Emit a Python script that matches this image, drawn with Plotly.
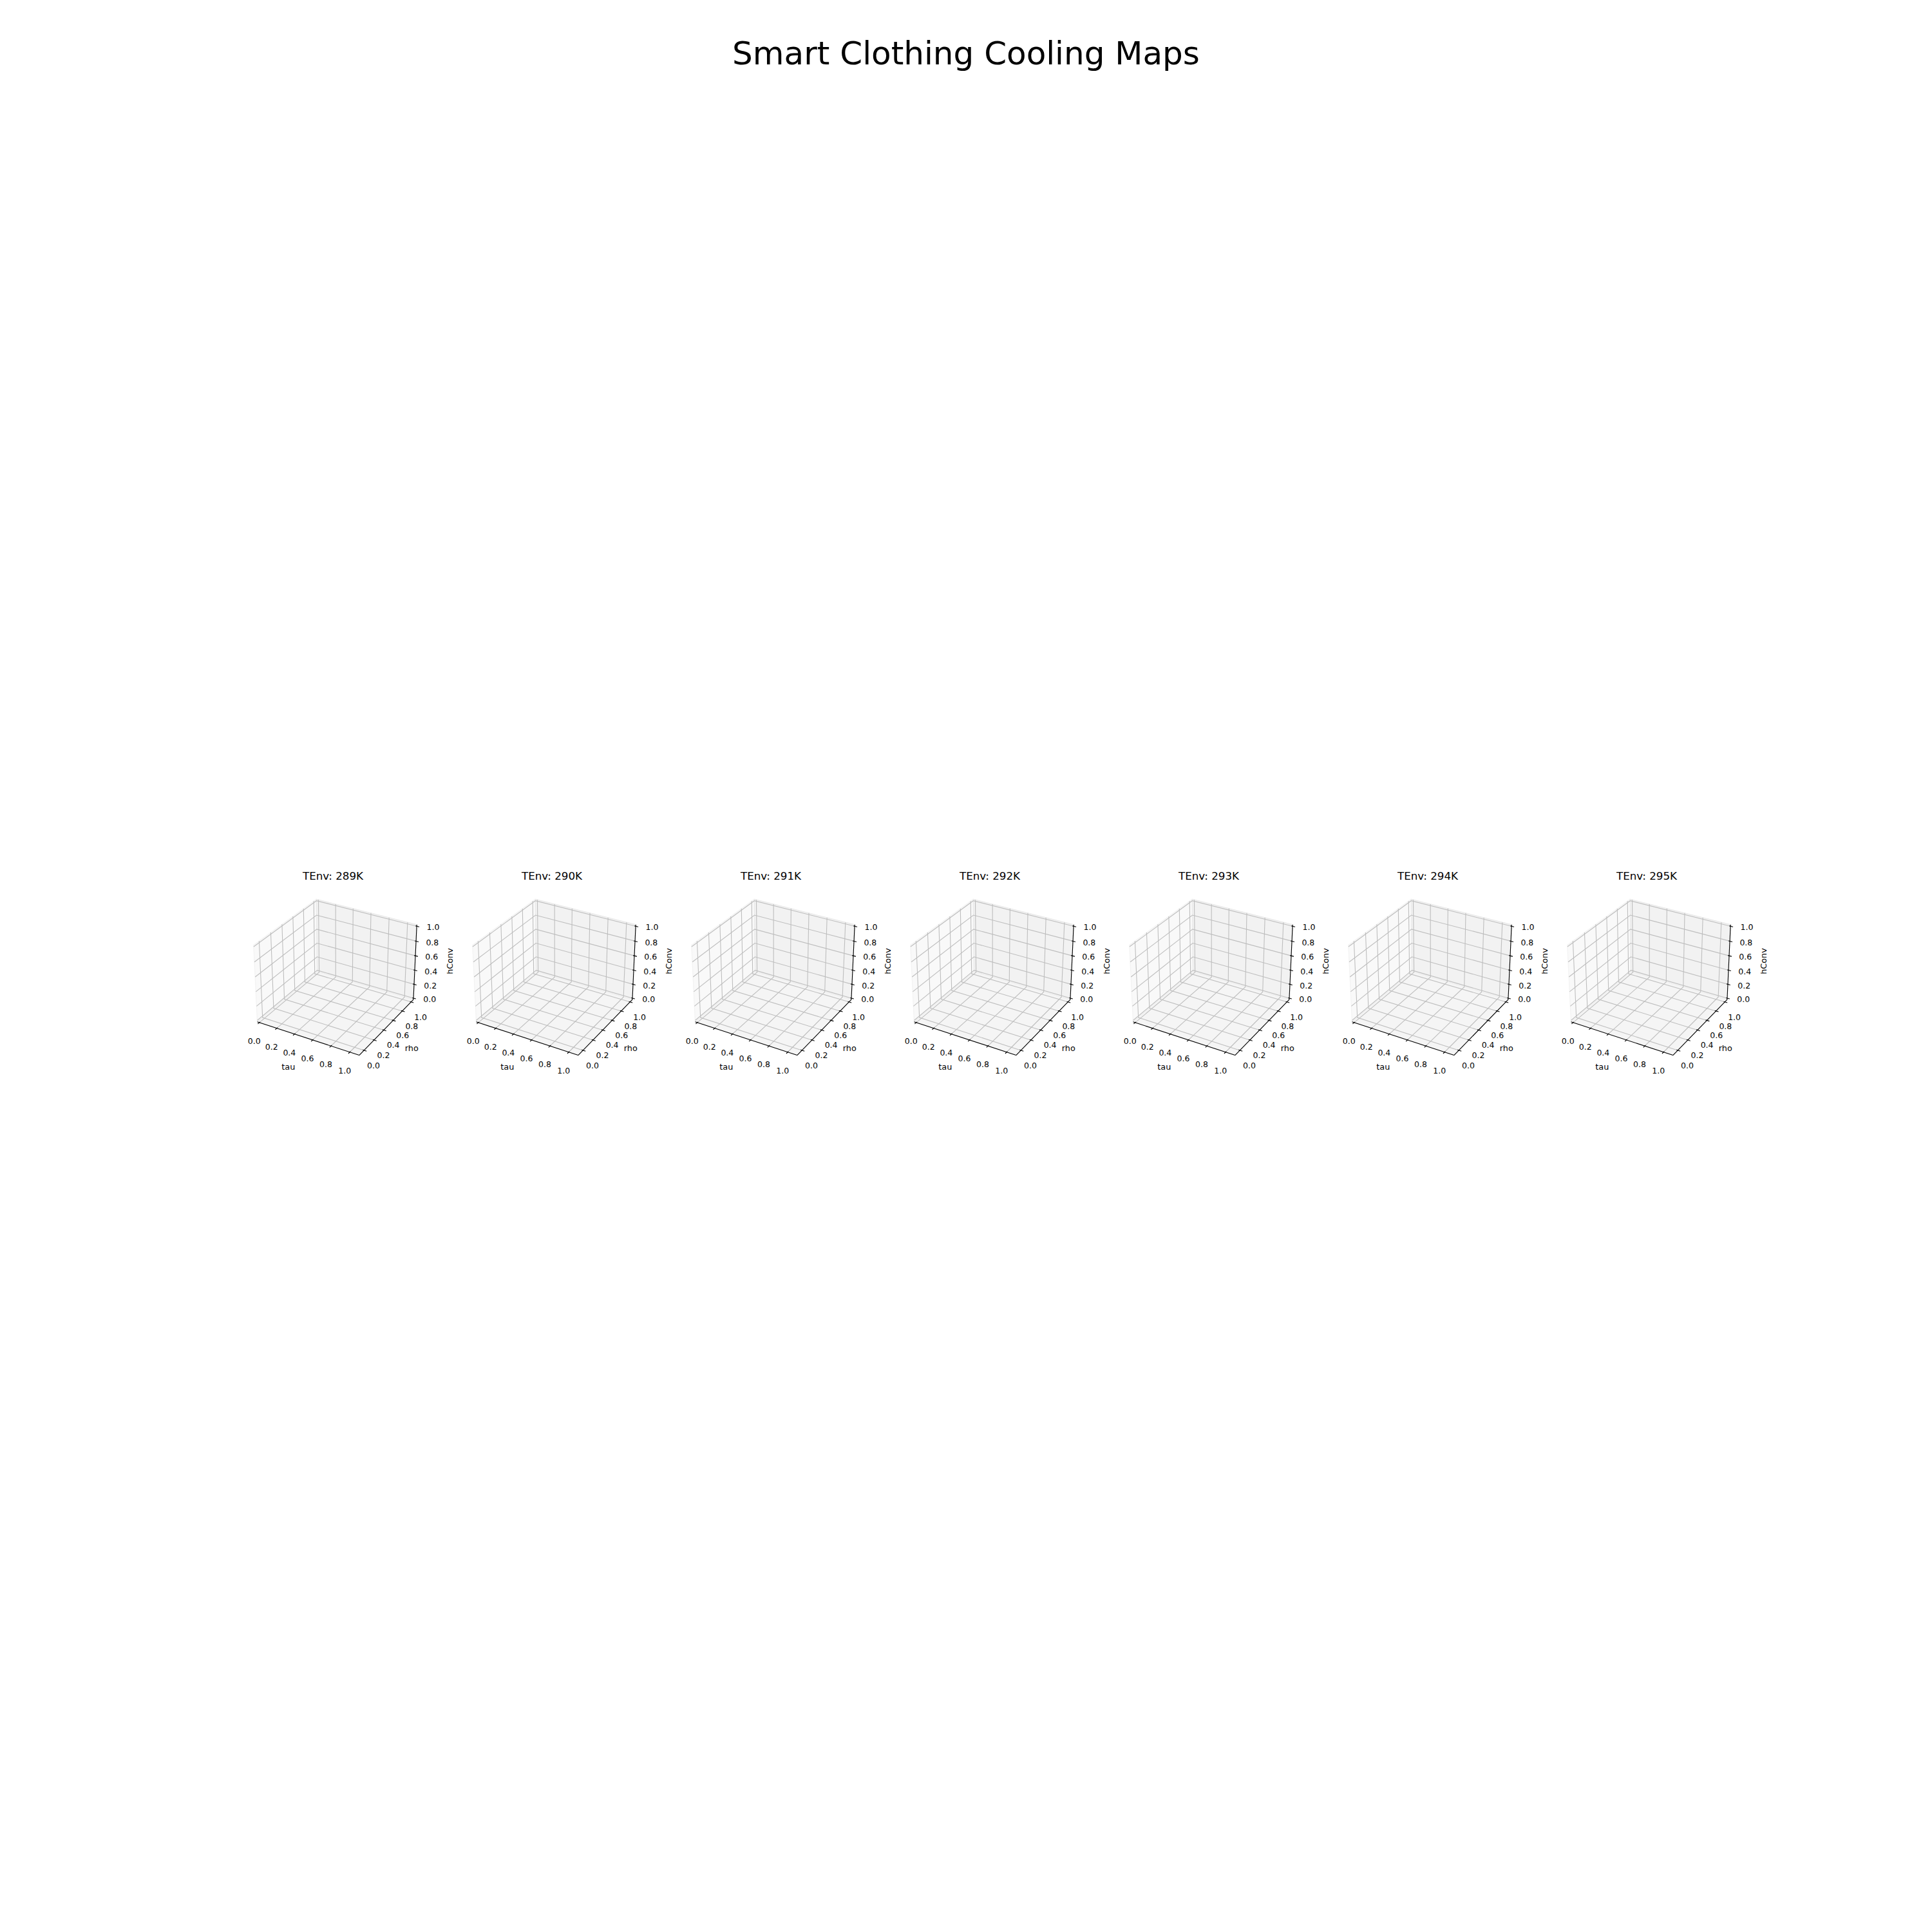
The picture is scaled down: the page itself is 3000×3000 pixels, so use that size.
import numpy as np
import plotly.graph_objects as go

# ---------------- data ----------------
temperatures = [289, 290, 291, 292, 293, 294, 295]
subplot_titles = [f"TEnv: {t}K" for t in temperatures]
x_label = "tau"
y_label = "rho"
z_label = "hConv"
tick_vals = [0.0, 0.2, 0.4, 0.6, 0.8, 1.0]
tick_text = ["0.0", "0.2", "0.4", "0.6", "0.8", "1.0"]
suptitle = "Smart Clothing Cooling Maps"
# visible axis limits (pane extents) of each axis
x_limits = [-0.024, 1.099]
y_limits = [-0.093, 1.052]
z_limits = [-1 / 48, 1 + 1 / 48]

# ---------------- 3D projection (matplotlib-like camera) ----------------
W = H = 3000
FONT = "DejaVu Sans"
BOX = np.array([4.0, 4.0, 3.0])
BOX *= 1.8294640721620434 / np.linalg.norm(BOX)
ELEV, AZIM, DIST = 30.0, -60.0, 10.0
R = 0.5 * BOX
el, az = np.deg2rad(ELEV), np.deg2rad(AZIM)
ps = np.array([np.cos(el) * np.cos(az), np.cos(el) * np.sin(az), np.sin(el)])
EYE = R + DIST * ps
w_ax = ps / np.linalg.norm(ps)
u_ax = np.cross([0, 0, 1.0], w_ax)
u_ax /= np.linalg.norm(u_ax)
v_ax = np.cross(w_ax, u_ax)

LO, HI = -1 / 48, 1 + 1 / 48  # normalised box coordinates of the panes


def proj_screen(pts):
    p = np.asarray(pts, float) * BOX
    d = p - EYE
    xv, yv, zv = d @ u_ax, d @ v_ax, d @ w_ax
    return xv / (-zv), yv / (-zv)


def nrm(val, lim):
    return LO + (val - lim[0]) / (lim[1] - lim[0]) * (HI - LO)


# screen mapping (layout calibration)
Z_AXIS_X0, Z_AXIS_Y0, Z_AXIS_Y1 = 642.0, 1550.0, 1438.3
(sxb, sxt), (syb, syt) = proj_screen([[HI, HI, 0.0], [HI, HI, 1.0]])
S = (Z_AXIS_Y0 - Z_AXIS_Y1) / (syt - syb)
BASE_X0 = Z_AXIS_X0 - S * sxb
BASE_Y0 = Z_AXIS_Y0 + S * syb
PANEL_DX = 340.0
TITLE_X0, TITLE_Y = 517.0, 1360.0


def to_px(pts, i):
    sx, sy = proj_screen(pts)
    return BASE_X0 + PANEL_DX * i + S * sx, BASE_Y0 - S * sy


TICK_OUT, TICK_IN = 0.025, 0.012
# pixel offsets of tick labels / axis labels from their anchor points
TL_OFF = {"x": (-8.0, 30.0), "y": (14.7, 24.7), "z": (25.3, 3.0)}
AL_OFF = {"x": (-23.5, 48.0), "y": (36.0, 36.5), "z": (54.0, -3.0)}

pane_polys = {"x": [], "y": [], "z": []}
grid_x, grid_y = [], []
axis_x, axis_y = [], []
tick_x, tick_y = [], []
lab_x, lab_y, lab_t = [], [], []
axl_x, axl_y, axl_t = [], [], []
annotations = []


def add_poly(store, pts, i):
    px, py = to_px(pts, i)
    store.append((list(px) + [px[0]], list(py) + [py[0]]))


def add_line(xs, ys, pts, i):
    px, py = to_px(pts, i)
    xs.extend(list(px) + [None])
    ys.extend(list(py) + [None])


def point_px(pt, i, off=(0.0, 0.0)):
    px, py = to_px([pt], i)
    return px[0] + off[0], py[0] + off[1]


for i, t in enumerate(temperatures):
    add_poly(pane_polys["x"], [[LO, LO, LO], [LO, HI, LO], [LO, HI, HI], [LO, LO, HI]], i)
    add_poly(pane_polys["y"], [[LO, HI, LO], [HI, HI, LO], [HI, HI, HI], [LO, HI, HI]], i)
    add_poly(pane_polys["z"], [[LO, LO, LO], [HI, LO, LO], [HI, HI, LO], [LO, HI, LO]], i)
    for tv in tick_vals:
        gx, gy, gz = nrm(tv, x_limits), nrm(tv, y_limits), nrm(tv, z_limits)
        add_line(grid_x, grid_y, [[gx, LO, LO], [gx, HI, LO], [gx, HI, HI]], i)
        add_line(grid_x, grid_y, [[LO, gy, HI], [LO, gy, LO], [HI, gy, LO]], i)
        add_line(grid_x, grid_y, [[HI, HI, gz], [LO, HI, gz], [LO, LO, gz]], i)
    add_line(axis_x, axis_y, [[LO, LO, LO], [HI, LO, LO]], i)
    add_line(axis_x, axis_y, [[HI, LO, LO], [HI, HI, LO]], i)
    add_line(axis_x, axis_y, [[HI, HI, LO], [HI, HI, HI]], i)
    for tv, tt in zip(tick_vals, tick_text):
        gx, gy, gz = nrm(tv, x_limits), nrm(tv, y_limits), nrm(tv, z_limits)
        add_line(tick_x, tick_y, [[gx, LO - TICK_OUT, LO], [gx, LO + TICK_IN, LO]], i)
        add_line(tick_x, tick_y, [[HI + TICK_OUT, gy, LO], [HI - TICK_IN, gy, LO]], i)
        add_line(tick_x, tick_y, [[HI + TICK_OUT, HI, gz], [HI - TICK_IN, HI, gz]], i)
        for pt, key in (([gx, LO, LO], "x"), ([HI, gy, LO], "y"), ([HI, HI, gz], "z")):
            px, py = point_px(pt, i, TL_OFF[key])
            lab_x.append(px); lab_y.append(py); lab_t.append(tt)
    for pt, txt, key in (([nrm(0.5, x_limits), LO, LO], x_label, "x"),
                         ([HI, nrm(0.5, y_limits), LO], y_label, "y")):
        px, py = point_px(pt, i, AL_OFF[key])
        axl_x.append(px); axl_y.append(py); axl_t.append(txt)
    px, py = point_px([HI, HI, nrm(0.5, z_limits)], i, AL_OFF["z"])
    annotations.append(dict(text=z_label, x=px, y=py, xref="x", yref="y",
                            showarrow=False, textangle=-90,
                            font=dict(size=12.8, family=FONT, color="black"),
                            xanchor="center", yanchor="middle"))
    annotations.append(dict(text=subplot_titles[i], x=TITLE_X0 + PANEL_DX * i, y=TITLE_Y,
                            xref="x", yref="y", showarrow=False,
                            font=dict(size=16.7, family=FONT, color="black"),
                            xanchor="center", yanchor="middle"))

fig = go.Figure()

pane_fill = {"x": "rgb(249,249,249)", "y": "rgb(242,242,242)", "z": "rgb(245,245,245)"}
pane_edge = {"x": "rgb(243,243,243)", "y": "rgb(234,234,234)", "z": "rgb(239,239,239)"}
for key in ("x", "y", "z"):
    xs, ys = [], []
    for px, py in pane_polys[key]:
        xs.extend(px + [None]); ys.extend(py + [None])
    fig.add_trace(go.Scatter(x=xs, y=ys, mode="lines", fill="toself",
                             fillcolor=pane_fill[key],
                             line=dict(color=pane_edge[key], width=1.3),
                             hoverinfo="skip", showlegend=False))

fig.add_trace(go.Scatter(x=grid_x, y=grid_y, mode="lines",
                         line=dict(color="rgb(190,190,190)", width=1.1),
                         hoverinfo="skip", showlegend=False))
fig.add_trace(go.Scatter(x=axis_x, y=axis_y, mode="lines",
                         line=dict(color="black", width=1.1),
                         hoverinfo="skip", showlegend=False))
fig.add_trace(go.Scatter(x=tick_x, y=tick_y, mode="lines",
                         line=dict(color="black", width=1.1),
                         hoverinfo="skip", showlegend=False))
fig.add_trace(go.Scatter(x=lab_x, y=lab_y, mode="text", text=lab_t,
                         textposition="middle center",
                         textfont=dict(size=12.5, family=FONT, color="black"),
                         hoverinfo="skip", showlegend=False))
fig.add_trace(go.Scatter(x=axl_x, y=axl_y, mode="text", text=axl_t,
                         textposition="middle center",
                         textfont=dict(size=12.8, family=FONT, color="black"),
                         hoverinfo="skip", showlegend=False))

fig.update_layout(
    width=W, height=H,
    margin=dict(l=0, r=0, t=0, b=0),
    paper_bgcolor="white", plot_bgcolor="white",
    xaxis=dict(range=[0, W], visible=False, fixedrange=True, domain=[0, 1]),
    yaxis=dict(range=[H, 0], visible=False, fixedrange=True, domain=[0, 1]),
    title=dict(text=suptitle, x=0.5, xanchor="center", y=1 - 82 / H, yanchor="middle",
               font=dict(size=50, family=FONT, color="black")),
    annotations=annotations,
    showlegend=False,
)

fig.write_html("out.html")
